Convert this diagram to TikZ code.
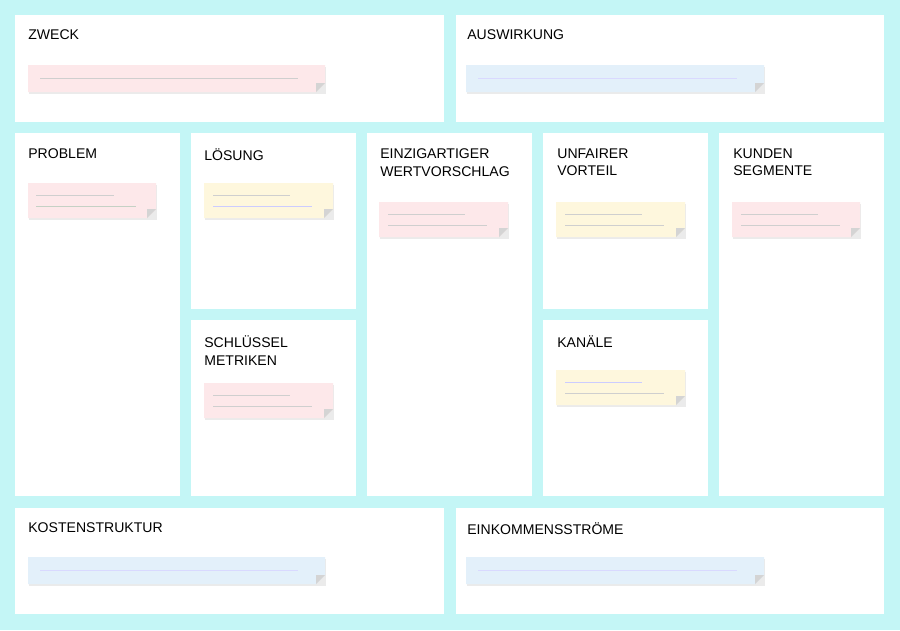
\documentclass[tikz,border=0pt]{standalone}
\usepackage{fontspec}
\setmainfont{Liberation Sans}
\definecolor{bgcyan}{HTML}{C4F6F6}
\definecolor{notepink}{HTML}{FDE8EA}
\definecolor{noteblue}{HTML}{E3F0FA}
\definecolor{noteyellow}{HTML}{FEF7DD}
\definecolor{notefold}{HTML}{D4D4D4}
\definecolor{noteline}{HTML}{CFCFCF}
\newcommand{\stickynote}[6]{% name, x1, y1, x2, y2, colour
  \fill[black!8] (#2+1,#3+2) rectangle (#4+1,#5+2);
  \fill[#6] (#2,#3) -- (#4,#3) -- (#4,#5-9) -- (#4-9,#5) -- (#2,#5) -- cycle;
  \fill[notefold] (#4,#5-9) -- (#4-9,#5) -- (#4-9,#5-9) -- cycle;
  \coordinate (#1) at (#2,#3);}
\tikzset{panel/.style={fill=white},
  title/.style={anchor=north west, inner sep=0pt, align=left, font=\fontsize{8}{10.2}\selectfont}}
\begin{document}
\begin{tikzpicture}[x=0.02cm,y=-0.02cm]
\fill[bgcyan] (0,0) rectangle (900,630);
% panels
\fill[panel] (15,15) rectangle (444,122);
\fill[panel] (456,15) rectangle (884,122);
\fill[panel] (15,133) rectangle (180,496);
\fill[panel] (191,133) rectangle (356,309);
\fill[panel] (191,320) rectangle (356,496);
\fill[panel] (367,133) rectangle (532,496);
\fill[panel] (543,133) rectangle (708,309);
\fill[panel] (543,320) rectangle (708,496);
\fill[panel] (719,133) rectangle (884,496);
\fill[panel] (15,508) rectangle (444,614);
\fill[panel] (456,508) rectangle (884,614);
% titles
\node (zweck) at (28,29) [title] {ZWECK};
\node (auswirkung) at (467,29) [title] {AUSWIRKUNG};
\node (problem) at (28,148) [title] {PROBLEM};
\node (loesung) at (204,148) [title] {LÖSUNG};
\node (metriken) at (204,335) [title] {SCHLÜSSEL\\METRIKEN};
\node (wert) at (380,148) [title] {EINZIGARTIGER\\WERTVORSCHLAG};
\node (vorteil) at (557,148) [title] {UNFAIRER\\VORTEIL};
\node (kanaele) at (557,335) [title] {KANÄLE};
\node (kunden) at (733,148) [title] {KUNDEN\\SEGMENTE};
\node (kosten) at (28,522) [title] {KOSTENSTRUKTUR};
\node (einkommen) at (467,522) [title] {EINKOMMENSSTRÖME};
% notes
\stickynote{n1}{28}{65}{325}{92}{notepink}
\draw[noteline] (40,78) -- (298,78);
\stickynote{n2}{466}{65}{764}{92}{noteblue}
\draw[blue!15] (478,78) -- (737,78);
\stickynote{n3}{28}{183}{156}{218}{notepink}
\draw[noteline] (36,195) -- (114,195);
\draw[green!5!noteline] (36,206) -- (136,206);
\stickynote{n4}{204}{183}{333}{218}{noteyellow}
\draw[noteline] (213,195) -- (290,195);
\draw[blue!20] (213,206) -- (312,206);
\stickynote{n5}{204}{383}{333}{418}{notepink}
\draw[noteline] (213,395) -- (290,395);
\draw[noteline] (213,406) -- (312,406);
\stickynote{n6}{379}{202}{508}{237}{notepink}
\draw[noteline] (388,214) -- (465,214);
\draw[noteline] (388,225) -- (487,225);
\stickynote{n7}{556}{202}{685}{237}{noteyellow}
\draw[noteline] (565,214) -- (642,214);
\draw[noteline] (565,225) -- (664,225);
\stickynote{n8}{556}{370}{685}{405}{noteyellow}
\draw[blue!20] (565,382) -- (642,382);
\draw[noteline] (565,393) -- (664,393);
\stickynote{n9}{732}{202}{860}{237}{notepink}
\draw[noteline] (741,214) -- (818,214);
\draw[noteline] (741,225) -- (840,225);
\stickynote{n10}{28}{557}{325}{584}{noteblue}
\draw[blue!15] (40,570) -- (298,570);
\stickynote{n11}{466}{557}{764}{584}{noteblue}
\draw[blue!15] (478,570) -- (737,570);
\end{tikzpicture}
\end{document}
